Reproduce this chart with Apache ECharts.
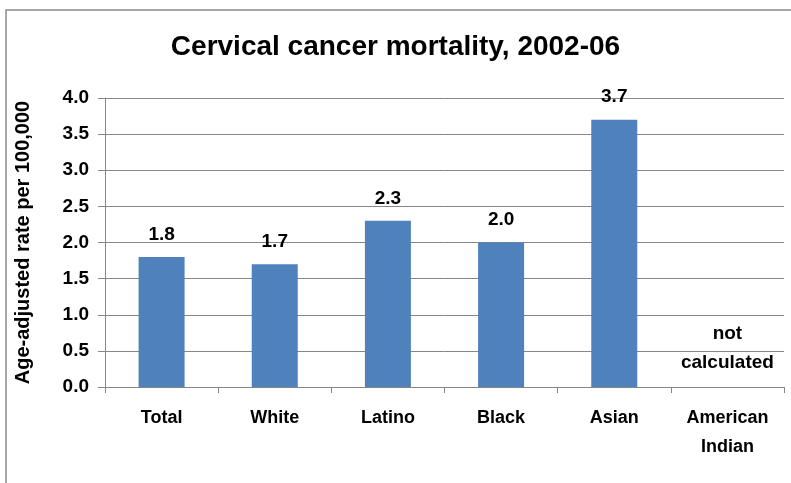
<!DOCTYPE html>
<html>
<head>
<meta charset="utf-8">
<script src="https://cdn.jsdelivr.net/npm/echarts@6/dist/echarts.min.js"></script>
<style>
html,body{margin:0;padding:0;background:#fff;}
#chart{width:791px;height:483px;}
</style>
</head>
<body>
<div id="chart"></div>
<script>
const categories = ['Total', 'White', 'Latino', 'Black', 'Asian', 'American\nIndian'];
const rates = [1.8, 1.7, 2.3, 2.0, 3.7, null];
const notes = ['', '', '', '', '', 'not\ncalculated'];
const yTicks = { min: 0, max: 4, interval: 0.5 };
const titleText = 'Cervical cancer mortality, 2002-06';
const yName = 'Age-adjusted rate per 100,000';

const chart = echarts.init(document.getElementById('chart'));
const font = 'Liberation Sans, Arial, sans-serif';
const barData = rates.map((v, i) => {
  if (v === null) {
    return {
      value: 0,
      label: { show: true, formatter: notes[i], lineHeight: 29, distance: 10 }
    };
  }
  return { value: v };
});

chart.setOption({
  animation: false,
  backgroundColor: '#fff',
  graphic: [{
    type: 'rect',
    shape: { x: 6, y: 10, width: 800, height: 500 },
    style: { fill: 'none', stroke: '#8a8a8a', lineWidth: 1.5 },
    silent: true
  }],
  title: {
    text: titleText,
    left: 'center',
    top: 28,
    textStyle: { fontFamily: font, fontWeight: 'bold', fontSize: 28, color: '#000' }
  },
  grid: { left: 105, right: 7, top: 98, bottom: 96 },
  xAxis: {
    type: 'category',
    data: categories,
    boundaryGap: true,
    axisLine: { lineStyle: { color: '#868686', width: 1 } },
    axisTick: { show: true, length: 6, lineStyle: { color: '#868686' } },
    axisLabel: {
      fontFamily: font, fontWeight: 'bold', fontSize: 18, color: '#000',
      margin: 17, lineHeight: 29, interval: 0
    }
  },
  yAxis: {
    type: 'value',
    min: yTicks.min, max: yTicks.max, interval: yTicks.interval,
    name: yName,
    nameLocation: 'middle',
    nameGap: 72,
    nameRotate: 90,
    nameTextStyle: { fontFamily: font, fontWeight: 'bold', fontSize: 20, color: '#000' },
    axisLine: { show: true, lineStyle: { color: '#868686', width: 1 } },
    axisTick: { show: true, length: 7, lineStyle: { color: '#868686' } },
    splitLine: { show: true, lineStyle: { color: '#868686', width: 1 } },
    axisLabel: {
      fontFamily: font, fontWeight: 'bold', fontSize: 19, color: '#000', margin: 16,
      formatter: v => v.toFixed(1)
    }
  },
  series: [{
    type: 'bar',
    data: barData,
    barWidth: 46,
    itemStyle: { color: '#4F81BD' },
    label: {
      show: true,
      position: 'top',
      distance: 13,
      fontFamily: font, fontWeight: 'bold', fontSize: 19, color: '#000',
      formatter: p => (typeof p.value === 'number' ? p.value.toFixed(1) : '')
    }
  }]
});
</script>
</body>
</html>
